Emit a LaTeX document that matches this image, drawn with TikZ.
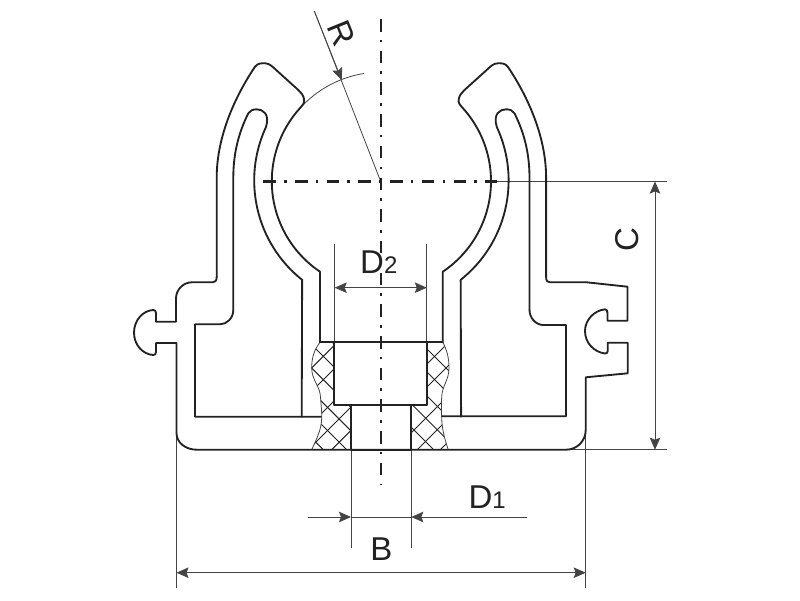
\documentclass[tikz,border=0pt]{standalone}
\usepackage{fontspec}
\setmainfont{Liberation Sans}
\usetikzlibrary{arrows.meta}
\definecolor{ink}{HTML}{222222}
\definecolor{thinink}{HTML}{444444}
\tikzset{
  part/.style={draw=ink,line width=1.85pt,line cap=round,line join=round},
  thinline/.style={draw=thinink,line width=0.8pt},
  hatchline/.style={draw=ink,line width=1pt},
  axisline/.style={draw=ink,line width=2.1pt,dash pattern=on 12.5pt off 8.2pt on 2.6pt off 8.4pt},
  dimboth/.style={thinline,{Stealth[length=12pt,width=10.5pt,inset=2pt]}-{Stealth[length=12pt,width=10.5pt,inset=2pt]}},
  dimto/.style={thinline,-{Stealth[length=12pt,width=10.5pt,inset=2pt]}},
  lbl/.style={text=ink,inner sep=0pt,outer sep=0pt},
}
\newcommand{\bigtxt}{\fontsize{33}{33}\selectfont}
\newcommand{\subtxt}{\fontsize{24}{24}\selectfont}
\newcommand{\armdraw}{%
  \draw[part] (320,342.3) -- (320,271.7) arc[start angle=123.9,end angle=221.9,radius=109]
    .. controls (303,104.5) and (305,103) .. (304,99)
    .. controls (303.5,95.5) and (301,92.5) .. (298.3,90)
    -- (276.7,70.5)
    .. controls (272,66) and (269,63.3) .. (265,63.3)
    .. controls (261,63.3) and (258,63) .. (255,66.7)
    .. controls (236,95) and (217,135) .. (216.7,176.7)
    -- (216.7,277);
  \draw[part] (233.3,310) -- (233.3,176.7)
    .. controls (233.5,150) and (240,130) .. (248.3,113.3)
    .. controls (250,110.5) and (253,109.3) .. (256.7,109.3)
    .. controls (263,109.3) and (270,114) .. (266,127)
    arc[start angle=204.9,end angle=128.5,radius=127]
    -- (301.7,416.7);
}
\begin{document}
\begin{tikzpicture}[x=1pt,y=-1pt]
\useasboundingbox (0,0) rectangle (800,600);
% cross hatching, left
\begin{scope}
  \clip (320,342.3) .. controls (314,350) and (311.7,358) .. (311.7,368)
    .. controls (311.7,380) and (320,386) .. (320.5,397)
    .. controls (321,405) and (322,412) .. (321.7,418)
    .. controls (321.5,430) and (316,440) .. (311.7,449.7)
    -- (351,449.7) -- (351,405) -- (334.3,405) -- (334.3,342.3) -- cycle;
  \foreach \c in {656,679.6,703,735,758,781.4,805}{
    \draw[hatchline] (290,\c-290) -- (370,\c-370);
  }
  \foreach \d in {-10,-33,-56.4,-79.8,-103,-126.4,-150}{
    \draw[hatchline] (290,290-\d) -- (370,370-\d);
  }
\end{scope}
% cross hatching, right
\begin{scope}
  \clip (442.7,342.3) .. controls (447,350) and (449,358) .. (449,368)
    .. controls (449,380) and (442,386) .. (441.7,397)
    .. controls (441.3,405) and (441.5,412) .. (441.7,418)
    .. controls (442,430) and (445,440) .. (448.3,449.7)
    -- (411.3,449.7) -- (411.3,405) -- (427,405) -- (427,342.3) -- cycle;
  \foreach \c in {768,791,814,844,867,890}{
    \draw[hatchline] (400,\c-400) -- (470,\c-470);
  }
  \foreach \d in {101,78,55,31,7.5,-16,-40}{
    \draw[hatchline] (400,400-\d) -- (470,470-\d);
  }
\end{scope}
% wavy break lines
\draw[thinline] (320,342.3) .. controls (314,350) and (311.7,358) .. (311.7,368)
    .. controls (311.7,380) and (320,386) .. (320.5,397)
    .. controls (321,405) and (322,412) .. (321.7,418)
    .. controls (321.5,430) and (316,440) .. (311.7,449.7);
\draw[thinline] (442.7,342.3) .. controls (447,350) and (449,358) .. (449,368)
    .. controls (449,380) and (442,386) .. (441.7,397)
    .. controls (441.3,405) and (441.5,412) .. (441.7,418)
    .. controls (442,430) and (445,440) .. (448.3,449.7);
% thin extension lines
\coordinate (cc) at (380.7,181.5);
\coordinate (Rtop) at (314.3,11);
\coordinate (Rtip) at (341.7,80);
\draw[thinline] (300,108.3) arc[start angle=221.9,end angle=261,radius=108.8];
\draw[thinline] (Rtop) -- (cc);
\draw[dimto] (Rtop) -- (Rtip);
\draw[thinline] (497,181.5) -- (666.7,181.5);
\draw[thinline] (566,449.7) -- (666.7,449.7);
\draw[thinline] (334.7,244.3) -- (334.7,342);
\draw[thinline] (426.8,244.3) -- (426.8,342);
\draw[thinline] (351,449.7) -- (351,548);
\draw[thinline] (411.3,449.7) -- (411.3,548);
\draw[thinline] (176.5,433) -- (176.5,588);
\draw[thinline] (585.7,430) -- (585.7,588);
% axes
\draw[axisline] (380.7,19) -- (380.7,484);
\draw[axisline] (263.3,181.5) -- (497,181.5);
% clip arms
\armdraw
\begin{scope}[xshift=762.8pt,xscale=-1]
  \armdraw
\end{scope}
% lower body
\draw[part] (216.7,277) .. controls (216.7,281) and (215,282.3) .. (212.7,282.3)
    -- (191.7,282.3)
    .. controls (183,282.3) and (176,290) .. (176,298.3)
    -- (176,321.7) -- (156,321.7) -- (156,313)
    .. controls (156,311) and (155,310) .. (153.3,310)
    .. controls (143,310.5) and (134,320) .. (134,332.7)
    .. controls (134,345) and (143,354.5) .. (153.3,355)
    .. controls (155,355) and (156,354) .. (156,352)
    -- (156,343) -- (176.5,343) -- (176.5,433)
    .. controls (176.5,443) and (186,449.7) .. (196.7,449.7)
    -- (566,449.7)
    .. controls (577,449.7) and (585.7,441) .. (585.7,430)
    -- (585.7,377.3) -- (627.7,373.3) -- (627.7,342.7) -- (607.7,342.7) -- (607.7,351)
    .. controls (607.7,352.5) and (606.5,353.7) .. (605,353.5)
    .. controls (594,352) and (585,343) .. (585,331)
    .. controls (585,320) and (594,310.5) .. (605,309.3)
    .. controls (606.5,309.3) and (607.5,310.5) .. (607.5,313)
    -- (607.5,320.7) -- (627.5,320.7) -- (627.5,286.7) -- (586.7,282.3) -- (550,282.3)
    .. controls (547.5,282.3) and (546.1,281) .. (546.1,277);
\draw[part] (233.3,310) .. controls (233.3,318) and (227,324.3) .. (220,324.3)
    -- (195,324.3) -- (195,416.7) -- (321,416.7);
\draw[part] (529.5,310) .. controls (529.5,318) and (536,325) .. (543.3,325)
    -- (566,325) -- (566,416.3) -- (442,416.3);
% bore
\draw[part] (320,342.3) -- (442.7,342.3);
\draw[part] (334.3,342.3) -- (334.3,405) -- (427,405) -- (427,342.3);
\draw[part] (351,405) -- (351,449.7);
\draw[part] (411.3,405) -- (411.3,449.7);
\draw[draw=ink,line width=2.6pt] (351,450) -- (411.3,450);
% dimensions
\coordinate (d2a) at (334.7,287.7);
\coordinate (d2b) at (426.8,287.7);
\draw[dimboth] (d2a) -- (d2b);
\coordinate (bL) at (176.5,572.7);
\coordinate (bR) at (585.7,572.7);
\draw[dimboth] (bL) -- (bR);
\coordinate (cT) at (655,181.5);
\coordinate (cB) at (655,449.7);
\draw[dimboth] (cT) -- (cB);
\coordinate (d1a) at (308.3,517);
\coordinate (d1b) at (351,517);
\coordinate (d1c) at (411.3,517);
\coordinate (d1d) at (526.7,517);
\draw[dimto] (d1a) -- (d1b);
\draw[thinline] (d1b) -- (d1c);
\draw[dimto] (d1d) -- (d1c);
% labels
\node[lbl,rotate=-68] (labR) at (341.7,33.3) {\bigtxt R};
\node[lbl,anchor=base west] (labD2) at (360.2,273.3) {\bigtxt D\subtxt 2};
\node[lbl,anchor=base west] (labD1) at (468.5,508.3) {\bigtxt D\subtxt 1};
\node[lbl,anchor=base] (labB) at (381.5,560.7) {\bigtxt B};
\node[lbl,rotate=90] (labC) at (627.3,240) {\bigtxt C};
\end{tikzpicture}
\end{document}
